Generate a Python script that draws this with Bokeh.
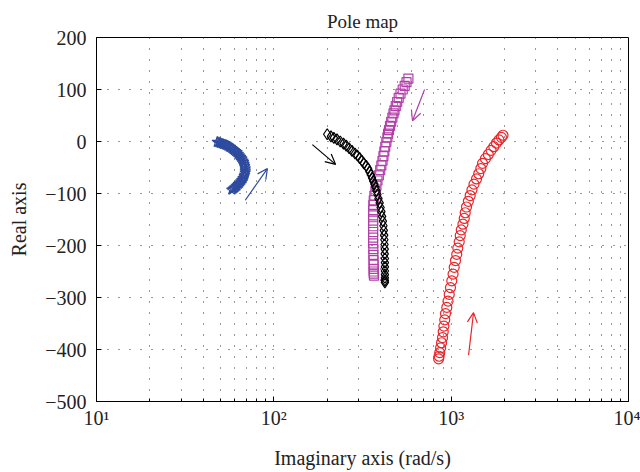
from bokeh.plotting import figure
from bokeh.models import Arrow, OpenHead, FixedTicker
from bokeh.embed import file_html
from bokeh.resources import INLINE

# ---------------- data ----------------
blue_x = [48, 49, 50, 51, 52, 53, 54, 55, 56, 57, 58, 59, 60, 61, 62, 63, 64, 65, 66, 67,
          67.5, 68, 68.5, 69, 69, 69, 68.5, 68, 67, 66, 65, 64, 63, 62, 61, 60, 59, 58]
blue_y = [-1, -2, -3, -4, -5, -6, -7, -8, -10, -11, -13, -15, -17, -19, -21, -24, -27, -30, -33, -37,
          -40, -44, -48, -52, -56, -60, -64, -67, -71, -74, -77, -80, -82, -85, -87, -89, -91, -93]

purple_x = [574, 560, 547, 533, 518, 506, 496, 487, 479, 473, 466, 459, 452, 446, 441, 437,
            431, 425, 420, 415, 410, 404, 398, 391, 384, 379, 374, 369, 366, 364, 363, 363,
            363, 363, 363, 363, 363, 364, 364, 365, 365, 366, 366, 366, 367]
purple_y = [121, 114, 107, 100, 92, 84, 76, 68, 60, 54, 46, 38, 30, 22, 15, 8,
            -1, -10, -19, -28, -37, -46, -55, -65, -75, -85, -95, -104, -113, -122, -132, -142,
            -152, -163, -174, -185, -196, -207, -218, -228, -237, -245, -250, -254, -258]

black_x = [200, 210, 218, 227, 237, 247, 256, 266, 276, 287, 296, 305, 314, 322, 332, 340,
           346, 352, 358, 363, 369, 374, 379, 384, 389, 395, 400, 404, 408, 412, 415, 417,
           419, 420, 421, 422, 422, 423, 423, 423, 423, 423, 423, 423, 423]
black_y = [14, 10, 7, 4, 0, -4, -8, -13, -18, -23, -27, -32, -37, -42, -47, -52,
           -58, -64, -70, -76, -82, -88, -95, -102, -110, -118, -127, -135, -144, -153, -162, -171,
           -180, -189, -198, -207, -216, -225, -233, -241, -249, -256, -262, -267, -271]

red_x = [1960, 1920, 1860, 1800, 1740, 1680, 1620, 1560, 1503, 1470, 1430, 1390, 1345, 1310,
         1280, 1250, 1220, 1200, 1185, 1165, 1140, 1125, 1110, 1090, 1075, 1058, 1040, 1025,
         1008, 991, 975, 960, 945, 929, 920, 910, 902, 894, 883, 872, 862, 855, 850]
red_y = [12, 8, 3, -3, -10, -17, -25, -33, -42, -52, -62, -72, -82, -93,
         -104, -115, -126, -137, -148, -159, -170, -181, -193, -205, -217, -229, -242, -255,
         -268, -281, -294, -307, -319, -331, -343, -355, -366, -377, -387, -397, -406, -413, -418]

# direction arrows (tail x, tail y, head x, head y) in data units
arrows = [
    (69, -113, 92, -52, "#2e4b9f"),
    (708, 100, 605, 40, "#b23fa8"),
    (165, -6, 223, -44, "#000000"),
    (1253, -411, 1337, -329, "#e8262b"),
]

x_major = [10, 100, 1000, 10000]
x_minor = [20, 30, 40, 50, 60, 70, 80, 90, 200, 300, 400, 500, 600, 700, 800, 900,
           2000, 3000, 4000, 5000, 6000, 7000, 8000, 9000]
x_labels = {10: "10¹", 100: "10²", 1000: "10³", 10000: "10⁴"}
y_ticks = [-500, -400, -300, -200, -100, 0, 100, 200]
y_labels = {v: (str(v).replace("-", "\u2212")) for v in y_ticks}

FONT = "Liberation Serif"

p = figure(x_axis_type="log", x_range=(10, 10000), y_range=(-500, 200),
           frame_width=532, frame_height=364,
           min_border_left=96, min_border_right=12, min_border_top=37, min_border_bottom=71,
           output_backend="svg", toolbar_location=None, title="Pole map",
           background_fill_color="white", border_fill_color="white")

p.title.align = "center"
p.title.text_font = FONT
p.title.text_font_size = "19px"
p.title.text_font_style = "normal"
p.title.text_color = "#222222"
p.title.offset = 0
p.title.standoff = 12

xt = FixedTicker(ticks=x_major, minor_ticks=x_minor)
yt = FixedTicker(ticks=y_ticks, minor_ticks=[])

ax = p.xaxis[0]
ax.ticker = xt
ax.major_label_overrides = x_labels
ax.axis_label = "Imaginary axis (rad/s)"
ay = p.yaxis[0]
ay.ticker = yt
ay.major_label_overrides = y_labels
ay.axis_label = "Real axis"

for a in (ax, ay):
    a.axis_label_text_font = FONT
    a.axis_label_text_font_size = "20px"
    a.axis_label_text_font_style = "normal"
    a.axis_label_text_color = "#222222"
    a.major_label_text_font = FONT
    a.major_label_text_font_size = "20px"
    a.major_label_text_color = "#222222"
    a.axis_line_color = "black"
    a.major_tick_in = 5
    a.major_tick_out = 0
    a.minor_tick_in = 3
    a.minor_tick_out = 0
    a.major_tick_line_color = "black"
    a.minor_tick_line_color = "black"
ay.minor_tick_line_color = None
ax.major_label_standoff = 5
ay.major_label_standoff = 10
ax.axis_label_standoff = 15
ay.axis_label_standoff = 12

p.outline_line_color = "black"

DASH = "1 10"
p.xgrid.grid_line_color = "#333333"
p.xgrid.grid_line_dash = DASH
p.xgrid.minor_grid_line_color = "#333333"
p.xgrid.minor_grid_line_dash = DASH
p.ygrid.grid_line_color = "#333333"
p.ygrid.grid_line_dash = DASH

p.scatter(blue_x, blue_y, marker="star", size=11, fill_color=None,
          line_color="#2e4b9f", line_width=1.3)
p.scatter(purple_x, purple_y, marker="square", size=9, fill_color=None,
          line_color="#b23fa8", line_width=1.2)
p.scatter(black_x, black_y, marker="diamond", size=11, fill_color=None,
          line_color="#000000", line_width=1.2)
p.scatter(red_x, red_y, marker="circle", size=10, fill_color=None,
          line_color="#e8262b", line_width=1.2)

for x0, y0, x1, y1, c in arrows:
    p.add_layout(Arrow(end=OpenHead(size=10, line_color=c, line_width=1.2),
                       x_start=x0, y_start=y0, x_end=x1, y_end=y1,
                       line_color=c, line_width=1.2))

open("out.html", "w").write(file_html(p, INLINE))
